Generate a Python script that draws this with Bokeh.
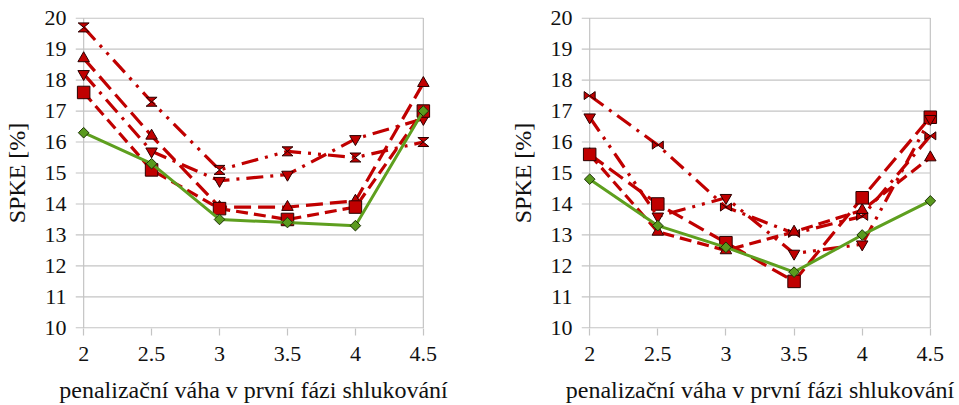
from bokeh.plotting import figure
from bokeh.models import Range1d, FixedTicker
from bokeh.layouts import row
from bokeh.embed import file_html
from bokeh.resources import INLINE

# ---------------- data ----------------
x_vals = [2, 2.5, 3, 3.5, 4, 4.5]
x_tick_labels = ["2", "2.5", "3", "3.5", "4", "4.5"]
y_ticks = [10, 11, 12, 13, 14, 15, 16, 17, 18, 19, 20]

x_label = "penalizační váha v první fázi shlukování"
y_label = "SPKE [%]"

# left chart
left_hourglass = [19.7, 17.3, 15.1, 15.7, 15.5, 16.0]
left_tri_up = [18.7, 16.2, 13.9, 13.9, 14.1, 17.9]
left_tri_down = [18.2, 15.7, 14.75, 14.95, 16.1, 16.75]
left_square = [17.6, 15.1, 13.85, 13.5, 13.9, 17.0]
left_diamond = [16.3, 15.3, 13.5, 13.4, 13.3, 17.0]

# right chart
right_bowtie = [17.5, 15.9, 13.9, 13.05, 13.6, 16.2]
right_tri_up = [15.6, 13.1, 12.5, 13.1, 13.8, 15.5]
right_square = [15.6, 14.0, 12.75, 11.5, 14.2, 16.8]
right_tri_down = [16.8, 13.6, 14.2, 12.4, 12.7, 16.75]
right_diamond = [14.8, 13.3, 12.6, 11.8, 13.0, 14.1]

# ---------------- style ----------------
RED = "#C00000"
RED_EDGE = "#2a0000"
GREEN = "#5E9F1F"
GREEN_FILL = "#5A9A1E"
GREEN_EDGE = "#1c3006"
GRID = "#C4C4C4"
FONT = "Liberation Serif"

XPAD = 0.06
YPAD = 0.02
PX_PER_X = 136.4
PX_PER_Y = 31.0


def hourglass_polys(xs, ys, horizontal):
    dx = 5.5 / PX_PER_X
    dy = (4.0 if horizontal else 4.5) / PX_PER_Y
    px, py = [], []
    for x, y in zip(xs, ys):
        if horizontal:
            px.append([x - dx, x - dx, x + dx, x + dx])
            py.append([y + dy, y - dy, y + dy, y - dy])
        else:
            px.append([x - dx, x + dx, x - dx, x + dx])
            py.append([y + dy, y + dy, y - dy, y - dy])
    return px, py


def make_panel(series, width, left, right):
    p = figure(width=width, height=405, output_backend="svg", toolbar_location=None,
               x_range=Range1d(x_vals[0] - XPAD, x_vals[-1] + XPAD),
               y_range=Range1d(y_ticks[0] - YPAD, y_ticks[-1] + YPAD),
               min_border_left=left, min_border_right=right,
               min_border_top=17, min_border_bottom=77)
    p.outline_line_color = None
    p.xgrid.grid_line_color = None
    p.ygrid.grid_line_color = None

    # grid lines & frame lines
    p.segment(x0=[x_vals[0] - XPAD] * len(y_ticks), y0=y_ticks,
              x1=[x_vals[-1]] * len(y_ticks), y1=y_ticks,
              line_color=GRID, line_width=1.2)
    p.segment(x0=[x_vals[0], x_vals[-1]], y0=[y_ticks[0]] * 2,
              x1=[x_vals[0], x_vals[-1]], y1=[y_ticks[-1]] * 2,
              line_color=GRID, line_width=1.2)

    for s in series:
        ys = s["y"]
        p.line(x_vals, ys, line_color=s["color"], line_width=s["lw"],
               line_dash=s["dash"])
        m = s["marker"]
        if m in ("hourglass", "bowtie"):
            px, py = hourglass_polys(x_vals, ys, m == "bowtie")
            p.patches(px, py, fill_color=RED, line_color=RED_EDGE, line_width=1)
        elif m == "diamond":
            p.scatter(x_vals, ys, marker="square", angle=0.7854, size=7.5,
                      fill_color=GREEN_FILL, line_color=GREEN_EDGE, line_width=1)
        else:
            p.scatter(x_vals, ys, marker=m, size=s.get("size", 11.5),
                      fill_color=RED, line_color=RED_EDGE, line_width=1)

    p.xaxis.ticker = FixedTicker(ticks=x_vals)
    p.xaxis.major_label_overrides = {v: t for v, t in zip(x_vals, x_tick_labels)}
    p.yaxis.ticker = FixedTicker(ticks=y_ticks)
    for ax in (p.xaxis[0], p.yaxis[0]):
        ax.axis_line_color = None
        ax.minor_tick_line_color = None
        ax.major_label_text_font = FONT
        ax.major_label_text_font_size = "22px"
        ax.major_label_text_color = "#111111"
        ax.axis_label_text_font = FONT
        ax.axis_label_text_font_size = "24px"
        ax.axis_label_text_font_style = "normal"
        ax.axis_label_text_color = "#111111"
    p.xaxis.major_tick_out = 7
    p.xaxis.major_tick_in = 0
    p.xaxis.major_tick_line_color = GRID
    p.xaxis.major_tick_line_width = 1.2
    p.xaxis.major_label_standoff = 11
    p.xaxis.axis_label = x_label
    p.xaxis.axis_label_standoff = 13
    p.yaxis.major_tick_out = 0
    p.yaxis.major_tick_in = 0
    p.yaxis.major_tick_line_color = None
    p.yaxis.major_label_standoff = 9
    p.yaxis.axis_label = y_label
    p.yaxis.axis_label_standoff = 12
    return p


left_series = [
    dict(y=left_hourglass, marker="hourglass", color=RED, lw=3.2, dash="17 7 3 7 3 7"),
    dict(y=left_tri_up, marker="triangle", color=RED, lw=3.2, dash="17 7"),
    dict(y=left_tri_down, marker="inverted_triangle", color=RED, lw=3.2, dash="17 7 3 7"),
    dict(y=left_square, marker="square", color=RED, lw=3.2, dash="12 6", size=12.5),
    dict(y=left_diamond, marker="diamond", color=GREEN, lw=3, dash="solid"),
]
right_series = [
    dict(y=right_bowtie, marker="bowtie", color=RED, lw=3.2, dash="17 7 3 7"),
    dict(y=right_tri_up, marker="triangle", color=RED, lw=3.2, dash="12 6"),
    dict(y=right_square, marker="square", color=RED, lw=3.2, dash="17 7", size=12.5),
    dict(y=right_tri_down, marker="inverted_triangle", color=RED, lw=3.2, dash="17 7 3 7 3 7"),
    dict(y=right_diamond, marker="diamond", color=GREEN, lw=3, dash="solid"),
]

p1 = make_panel(left_series, 480, 74, 49)
p2 = make_panel(right_series, 479, 101, 21)

layout = row(p1, p2)
open("out.html", "w").write(file_html(layout, INLINE))
